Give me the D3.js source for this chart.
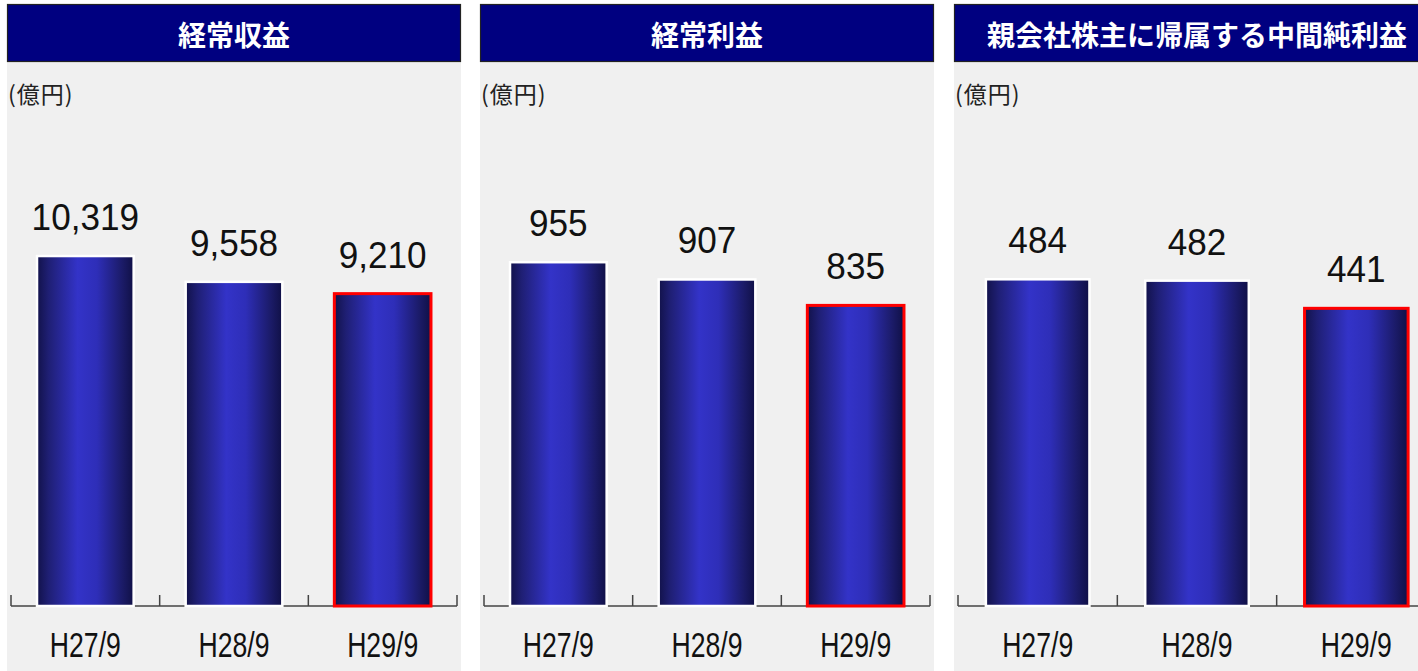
<!DOCTYPE html>
<html>
<head>
<meta charset="utf-8">
<script src="https://cdn.jsdelivr.net/npm/d3@7"></script>
<style>
  html, body { margin: 0; padding: 0; background: #ffffff; }
  svg { display: block; }
</style>
</head>
<body>
<svg id="chart" width="1418" height="671"></svg>
<script>
// chart data
const categories = ["H27/9", "H28/9", "H29/9"];
const titles = ["経常収益", "経常利益", "親会社株主に帰属する中間純利益"];
const revenue = [10319, 9558, 9210];
const ordinaryProfit = [955, 907, 835];
const netIncome = [484, 482, 441];
const yMax = [14330, 1350, 720];
const unitLabel = "(億円)";

const seriesList = [revenue, ordinaryProfit, netIncome];

// panel frames (left / right edges)
const panels = [
  {x0: 7, x1: 461},
  {x0: 480, x1: 934},
  {x0: 954, x1: 1440}
];

const svg = d3.select("#chart");
const headerTop = 4, headerBottom = 62;
const baseY = 606, plotTop = 120;
const fmt = d3.format(",");

// horizontal gradient used by every bar
const defs = svg.append("defs");
const grad = defs.append("linearGradient")
    .attr("id", "barGrad")
    .attr("x1", 0).attr("x2", 1).attr("y1", 0).attr("y2", 0);
grad.append("stop").attr("offset", "0%").attr("stop-color", "#12124a");
grad.append("stop").attr("offset", "12%").attr("stop-color", "#1f1f74");
grad.append("stop").attr("offset", "42%").attr("stop-color", "#3333c8");
grad.append("stop").attr("offset", "62%").attr("stop-color", "#2e2eb8");
grad.append("stop").attr("offset", "88%").attr("stop-color", "#1b1b68");
grad.append("stop").attr("offset", "100%").attr("stop-color", "#101046");

panels.forEach((p, i) => {
  const g = svg.append("g").attr("class", "panel");
  const values = seriesList[i];

  // gray background
  g.append("rect")
    .attr("x", p.x0).attr("y", headerBottom)
    .attr("width", p.x1 - p.x0).attr("height", 671 - headerBottom)
    .attr("fill", "#f0f0f0");

  // header bar
  g.append("rect")
    .attr("x", p.x0 + 0.5).attr("y", headerTop + 0.5)
    .attr("width", p.x1 - p.x0 - 1).attr("height", headerBottom - headerTop - 1)
    .attr("fill", "#000080")
    .attr("stroke", "#222")
    .attr("stroke-width", 1.2);

  g.append("text")
    .attr("x", (p.x0 + p.x1) / 2)
    .attr("y", 46)
    .attr("text-anchor", "middle")
    .attr("fill", "#fff")
    .attr("font-family", "'Noto Sans CJK JP', sans-serif")
    .attr("font-weight", "bold")
    .attr("font-size", 28)
    .text(titles[i]);

  // unit label
  g.append("text")
    .attr("x", p.x0 + 1)
    .attr("y", 103)
    .attr("fill", "#222")
    .attr("font-family", "'Noto Sans CJK JP', sans-serif")
    .attr("font-size", 23)
    .attr("letter-spacing", 1)
    .text(unitLabel);

  const x = d3.scaleBand()
    .domain(categories)
    .range([p.x0 + 4, p.x1 - 4])
    .paddingInner(0.35)
    .paddingOuter(0.175);

  const y = d3.scaleLinear()
    .domain([0, yMax[i]])
    .range([baseY, plotTop]);

  // axis baseline with ticks at band edges
  const edges = categories.map(c => x(c) - x.step() * x.paddingInner() / 2);
  edges.push(x.range()[1]);
  g.append("line")
    .attr("x1", x.range()[0]).attr("x2", x.range()[1])
    .attr("y1", baseY).attr("y2", baseY)
    .attr("stroke", "#444").attr("stroke-width", 1.5);
  g.selectAll("line.tick")
    .data(edges)
    .enter().append("line")
      .attr("class", "tick")
      .attr("x1", d => d).attr("x2", d => d)
      .attr("y1", baseY - 11).attr("y2", baseY)
      .attr("stroke", "#444").attr("stroke-width", 1.5);

  // bars
  g.selectAll("rect.bar")
    .data(values)
    .enter().append("rect")
      .attr("class", "bar")
      .attr("x", (d, j) => x(categories[j]))
      .attr("y", d => y(d))
      .attr("width", x.bandwidth())
      .attr("height", d => baseY - y(d))
      .attr("fill", "url(#barGrad)")
      .attr("stroke", (d, j) => j == 2 ? "#ff0000" : "#ffffff")
      .attr("stroke-width", (d, j) => j == 2 ? 3 : 2.5);

  // value labels
  g.selectAll("text.value")
    .data(values)
    .enter().append("text")
      .attr("class", "value")
      .attr("transform", (d, j) =>
        `translate(${x(categories[j]) + x.bandwidth() / 2},${y(d) - 26}) scale(0.95,1)`)
      .attr("text-anchor", "middle")
      .attr("fill", "#111")
      .attr("font-family", "'Liberation Sans', Arial, sans-serif")
      .attr("font-size", 37)
      .text(d => fmt(d));

  // category labels
  g.selectAll("text.cat")
    .data(categories)
    .enter().append("text")
      .attr("class", "cat")
      .attr("transform", d =>
        `translate(${x(d) + x.bandwidth() / 2},657) scale(0.74,1)`)
      .attr("text-anchor", "middle")
      .attr("fill", "#111")
      .attr("font-family", "'Liberation Sans Narrow', 'Liberation Sans', sans-serif")
      .attr("font-size", 36)
      .text(d => d);
});
</script>
</body>
</html>
